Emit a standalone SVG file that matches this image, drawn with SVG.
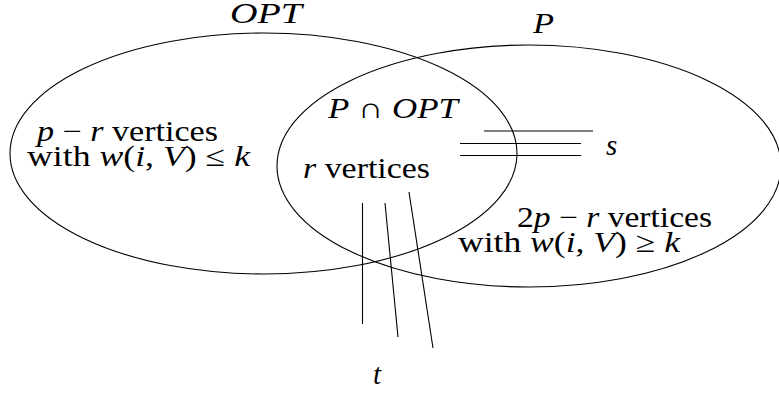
<svg xmlns="http://www.w3.org/2000/svg" width="779" height="394" viewBox="0 0 779 394">
<style>
.set{fill:none;stroke:#000;stroke-width:1.1}
.ln{stroke:#000;stroke-width:1.1;fill:none}
text{font-family:"Liberation Serif","DejaVu Serif",serif;font-size:29px;fill:#000}
.m{font-style:italic}
</style>
<rect width="779" height="394" fill="#fff"/>
<g id="opt">
<ellipse class="set" cx="263.5" cy="153.5" rx="253.5" ry="120.5"/>
<text x="230" y="23" class="m" textLength="72" lengthAdjust="spacingAndGlyphs">OPT</text>
<text x="37" y="141" textLength="181" lengthAdjust="spacingAndGlyphs"><tspan class="m">p</tspan> − <tspan class="m">r</tspan> vertices</text>
<text x="27" y="166" textLength="223" lengthAdjust="spacingAndGlyphs">with <tspan class="m">w</tspan>(<tspan class="m">i</tspan>, <tspan class="m">V</tspan>) ≤ <tspan class="m">k</tspan></text>
</g>
<g id="p">
<ellipse class="set" cx="529" cy="166" rx="252" ry="121"/>
<text x="533" y="33" class="m" textLength="21" lengthAdjust="spacingAndGlyphs">P</text>
<text x="517" y="227" textLength="195" lengthAdjust="spacingAndGlyphs">2<tspan class="m">p</tspan> − <tspan class="m">r</tspan> vertices</text>
<text x="458" y="252" textLength="222" lengthAdjust="spacingAndGlyphs">with <tspan class="m">w</tspan>(<tspan class="m">i</tspan>, <tspan class="m">V</tspan>) ≥ <tspan class="m">k</tspan></text>
</g>
<g id="intersection">
<text x="328" y="118" textLength="130" lengthAdjust="spacingAndGlyphs"><tspan class="m">P</tspan> ∩ <tspan class="m">OPT</tspan></text>
<text x="303" y="178" textLength="127" lengthAdjust="spacingAndGlyphs"><tspan class="m">r</tspan> vertices</text>
</g>
<g id="connectors">
<line class="ln" x1="484" y1="131" x2="593" y2="131"/>
<line class="ln" x1="460" y1="143.5" x2="581" y2="143.5"/>
<line class="ln" x1="460" y1="155.5" x2="581" y2="155.5"/>
<line class="ln" x1="362.5" y1="203" x2="362.5" y2="324"/>
<line class="ln" x1="385" y1="203" x2="398" y2="337"/>
<line class="ln" x1="409" y1="192" x2="433" y2="348"/>
</g>
<g id="labels">
<text x="606" y="155" class="m">s</text>
<text x="373" y="384" class="m">t</text>
</g>
</svg>
